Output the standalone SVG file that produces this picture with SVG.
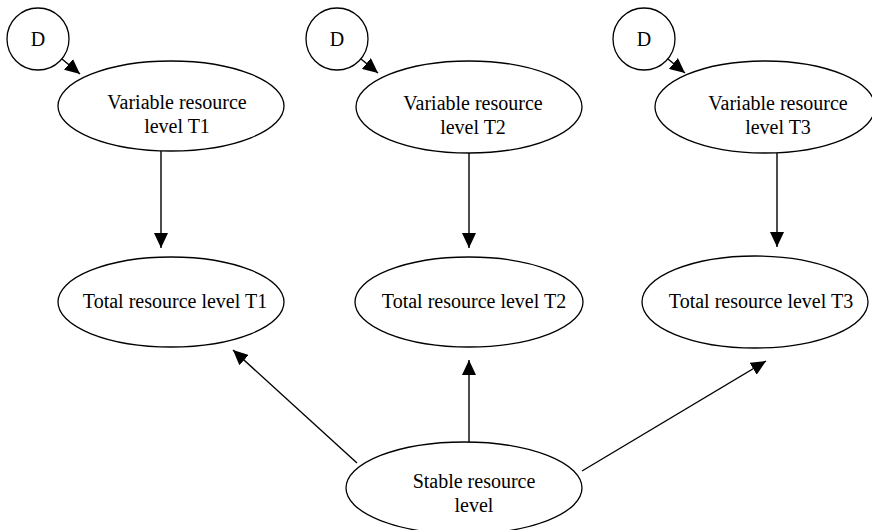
<svg xmlns="http://www.w3.org/2000/svg" width="872" height="530" viewBox="0 0 872 530">
<defs>
<style>
.n{fill:#fff;stroke:#000;stroke-width:1.3}
.t{font-family:"Liberation Serif","Times New Roman",serif;font-size:20px;fill:#000;text-anchor:middle}
.e{stroke:#000;stroke-width:1.4;fill:none;marker-end:url(#ah)}
</style>
<marker id="ah" markerWidth="16" markerHeight="14" refX="15" refY="7" orient="auto" markerUnits="userSpaceOnUse">
<path d="M0,0 L15,7 L0,14 Z" fill="#000"/>
</marker>
</defs>
<rect width="872" height="530" fill="#fff"/>
<g id="connectors">
<line class="e" x1="62" y1="59" x2="80" y2="74"/>
<line class="e" x1="361" y1="59" x2="378" y2="73"/>
<line class="e" x1="668" y1="59" x2="685" y2="73"/>
<line class="e" x1="161" y1="151" x2="161" y2="248"/>
<line class="e" x1="469" y1="153" x2="469" y2="248"/>
<line class="e" x1="777" y1="152" x2="777" y2="247"/>
<line class="e" x1="357" y1="463" x2="233" y2="350"/>
<line class="e" x1="469" y1="442" x2="469" y2="360"/>
<line class="e" x1="582" y1="471" x2="766" y2="361"/>
</g>
<g id="d1"><circle class="n" cx="38" cy="39" r="31"/><text class="t" x="38" y="46">D</text></g>
<g id="d2"><circle class="n" cx="337" cy="39" r="31"/><text class="t" x="337" y="46">D</text></g>
<g id="d3"><circle class="n" cx="644" cy="39" r="31"/><text class="t" x="644" y="46">D</text></g>
<g id="v1"><ellipse class="n" cx="171" cy="106" rx="113" ry="45"/><text class="t" x="177" y="109">Variable resource</text><text class="t" x="177" y="133">level T1</text></g>
<g id="v2"><ellipse class="n" cx="469" cy="107" rx="113" ry="46"/><text class="t" x="473" y="110">Variable resource</text><text class="t" x="473" y="134">level T2</text></g>
<g id="v3"><ellipse class="n" cx="765" cy="107" rx="110" ry="46"/><text class="t" x="778" y="110">Variable resource</text><text class="t" x="778" y="134">level T3</text></g>
<g id="t1"><ellipse class="n" cx="171" cy="302" rx="113" ry="45"/><text class="t" x="175" y="308">Total resource level T1</text></g>
<g id="t2"><ellipse class="n" cx="469" cy="302" rx="114" ry="45"/><text class="t" x="474" y="308">Total resource level T2</text></g>
<g id="t3"><ellipse class="n" cx="755" cy="302" rx="113" ry="46"/><text class="t" x="761" y="308">Total resource level T3</text></g>
<g id="s"><ellipse class="n" cx="464" cy="488" rx="118" ry="46"/><text class="t" x="474" y="488">Stable resource</text><text class="t" x="474" y="512">level</text></g>
</svg>
